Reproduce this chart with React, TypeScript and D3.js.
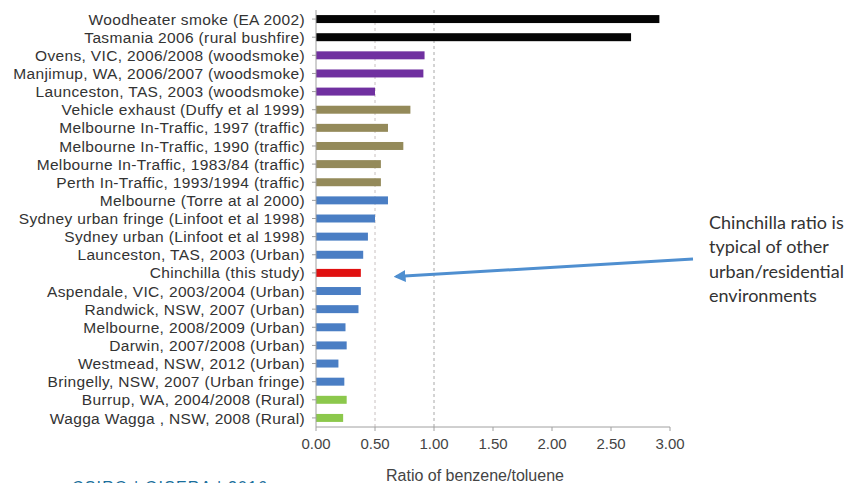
import React from "react";
import * as d3 from "d3";

const categories = [
  "Woodheater smoke (EA 2002)",
  "Tasmania 2006 (rural bushfire)",
  "Ovens, VIC, 2006/2008 (woodsmoke)",
  "Manjimup, WA, 2006/2007 (woodsmoke)",
  "Launceston, TAS, 2003 (woodsmoke)",
  "Vehicle exhaust (Duffy et al 1999)",
  "Melbourne In-Traffic, 1997 (traffic)",
  "Melbourne In-Traffic, 1990 (traffic)",
  "Melbourne In-Traffic, 1983/84 (traffic)",
  "Perth In-Traffic, 1993/1994 (traffic)",
  "Melbourne (Torre at al 2000)",
  "Sydney urban fringe (Linfoot et al 1998)",
  "Sydney urban (Linfoot et al 1998)",
  "Launceston, TAS, 2003 (Urban)",
  "Chinchilla (this study)",
  "Aspendale, VIC, 2003/2004 (Urban)",
  "Randwick, NSW, 2007 (Urban)",
  "Melbourne, 2008/2009 (Urban)",
  "Darwin, 2007/2008 (Urban)",
  "Westmead, NSW, 2012 (Urban)",
  "Bringelly, NSW, 2007 (Urban fringe)",
  "Burrup, WA, 2004/2008 (Rural)",
  "Wagga Wagga , NSW, 2008 (Rural)",
];

const ratios = [
  2.91, 2.67, 0.92, 0.91, 0.5, 0.8, 0.61, 0.74, 0.55, 0.55, 0.61, 0.5, 0.44,
  0.4, 0.38, 0.38, 0.36, 0.25, 0.26, 0.19, 0.24, 0.26, 0.23,
];

const groups = [
  "smoke", "smoke", "wood", "wood", "wood", "traffic", "traffic", "traffic",
  "traffic", "traffic", "urban", "urban", "urban", "urban", "study", "urban",
  "urban", "urban", "urban", "urban", "urban", "rural", "rural",
];

const groupColors: Record<string, string> = {
  smoke: "#050505",
  wood: "#7030a0",
  traffic: "#948a5a",
  urban: "#4a7ec4",
  study: "#e01010",
  rural: "#8cc84c",
};

const xTicks = [0, 0.5, 1, 1.5, 2, 2.5, 3];
const gridValues = [0.5, 1];

const annotationLines = [
  "Chinchilla ratio is",
  "typical of other",
  "urban/residential",
  "environments",
];

export default function App() {
  const width = 850;
  const height = 483;
  const x = d3.scaleLinear().domain([0, 3]).range([316, 670]);
  const y = d3
    .scaleBand<string>()
    .domain(categories)
    .range([10, 427])
    .paddingInner(0.56)
    .paddingOuter(0.28);

  const axisY = 427;

  return (
    <svg
      width={width}
      height={height}
      style={{ position: "absolute", left: 0, top: 0, background: "#fff" }}
    >
      {gridValues.map((g) => (
        <line
          key={g}
          x1={x(g)}
          x2={x(g)}
          y1={10}
          y2={axisY}
          stroke={g === 0.5 ? "#c8c0c0" : "#a8a8a8"}
          strokeWidth={1}
          strokeDasharray="3,3"
        />
      ))}
      {categories.map((c, i) => (
        <rect
          key={c}
          x={x(0)}
          y={y(c)}
          width={x(ratios[i]) - x(0)}
          height={y.bandwidth()}
          fill={groupColors[groups[i]]}
        />
      ))}
      <line x1={x(0)} x2={x(0)} y1={10} y2={axisY} stroke="#a0a0a0" />
      <line x1={x(0)} x2={x(3)} y1={axisY} y2={axisY} stroke="#a0a0a0" />
      {xTicks.map((t) => (
        <g key={t}>
          <line x1={x(t)} x2={x(t)} y1={axisY} y2={axisY + 4} stroke="#a0a0a0" />
          <text
            x={x(t)}
            y={449}
            textAnchor="middle"
            fontFamily="Liberation Sans, Arial, sans-serif"
            fontSize={15}
            fill="#444"
          >
            {d3.format(".2f")(t)}
          </text>
        </g>
      ))}
      {categories.map((c) => (
        <line
          key={"t" + c}
          x1={x(0) - 4}
          x2={x(0)}
          y1={(y(c) as number) + y.bandwidth() / 2}
          y2={(y(c) as number) + y.bandwidth() / 2}
          stroke="#a0a0a0"
        />
      ))}
      {categories.map((c) => (
        <text
          key={"l" + c}
          x={305}
          y={(y(c) as number) + y.bandwidth() / 2}
          dy="0.36em"
          textAnchor="end"
          fontFamily="Liberation Sans, Arial, sans-serif"
          fontSize={15.5}
          letterSpacing={0.35}
          fill="#333"
        >
          {c}
        </text>
      ))}
      <text
        x={475}
        y={481}
        textAnchor="middle"
        fontFamily="Liberation Sans, Arial, sans-serif"
        fontSize={16}
        fill="#444"
      >
        Ratio of benzene/toluene
      </text>
      <defs>
        <marker
          id="arrowhead"
          viewBox="0 0 10 10"
          refX="8"
          refY="5"
          markerWidth="4"
          markerHeight="4"
          orient="auto"
        >
          <path d="M0,0 L10,5 L0,10 Z" fill="#4f8fd0" />
        </marker>
      </defs>
      <line
        x1={693}
        y1={259}
        x2={396}
        y2={276.5}
        stroke="#4f8fd0"
        strokeWidth={3}
        markerEnd="url(#arrowhead)"
      />
      {annotationLines.map((l, i) => (
        <text
          key={l}
          x={709}
          y={229 + i * 24.3}
          fontFamily="Lato, Open Sans, sans-serif"
          fontSize={18}
          fill="#333"
        >
          {l}
        </text>
      ))}
      <text
        x={72}
        y={493}
        fontFamily="Liberation Sans, Arial, sans-serif"
        fontSize={16}
        textLength={195}
        lengthAdjust="spacing"
        fill="#1a6f9c"
      >
        CSIRO | GISERA | 2016
      </text>
    </svg>
  );
}
